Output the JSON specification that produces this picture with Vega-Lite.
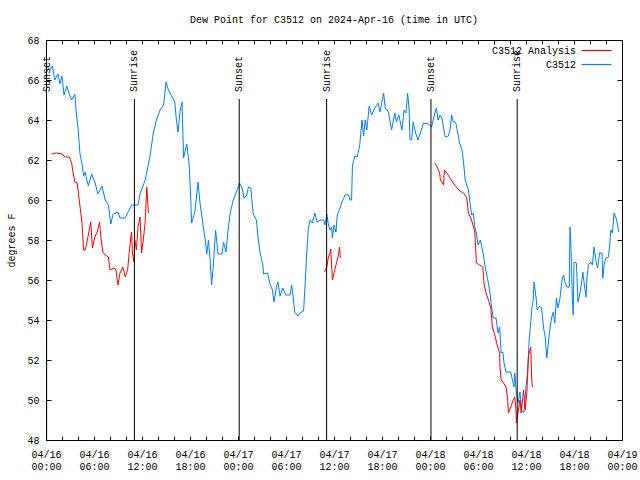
{
  "$schema": "https://vega.github.io/schema/vega-lite/v6.json",
  "width": 576,
  "height": 400,
  "autosize": "none",
  "padding": {"left": 46, "top": 40, "right": 18, "bottom": 40},
  "background": "white",
  "title": {"text": "Dew Point for C3512 on 2024-Apr-16 (time in UTC)", "font": "Liberation Mono", "fontSize": 10, "fontWeight": "normal", "color": "black", "anchor": "middle", "offset": 10},
  "config": {
    "view": {"stroke": "black", "strokeWidth": 1},
    "axis": {"labelFont": "Liberation Mono", "labelFontSize": 10, "labelColor": "black", "titleFont": "Liberation Mono", "titleFontSize": 10, "titleFontWeight": "normal", "titleColor": "black", "domainColor": "black", "tickColor": "black", "grid": false},
    "legend": {"orient": "none", "legendX": 544.5, "legendY": 4.5, "symbolType": "M-3,0H3", "symbolSize": 100, "symbolStrokeWidth": 1.2, "labelAlign": "right", "labelOffset": -26.5, "padding": 0, "rowPadding": 3, "labelFont": "Liberation Mono", "labelFontSize": 10, "labelColor": "black"}
  },
  "datasets": {
    "obs": [
      {"hour":0.1,"dewpoint":66.7,"series":"C3512","segment":"b"},{"hour":0.5,"dewpoint":66.5,"series":"C3512","segment":"b"},{"hour":0.8,"dewpoint":66.7,"series":"C3512","segment":"b"},{"hour":1.1,"dewpoint":66.0,"series":"C3512","segment":"b"},{"hour":1.5,"dewpoint":66.3,"series":"C3512","segment":"b"},{"hour":1.75,"dewpoint":65.8,"series":"C3512","segment":"b"},{"hour":2.0,"dewpoint":66.2,"series":"C3512","segment":"b"},{"hour":2.25,"dewpoint":65.25,"series":"C3512","segment":"b"},{"hour":2.6,"dewpoint":65.7,"series":"C3512","segment":"b"},{"hour":2.9,"dewpoint":65.3,"series":"C3512","segment":"b"},{"hour":3.2,"dewpoint":65.0,"series":"C3512","segment":"b"},{"hour":3.6,"dewpoint":65.3,"series":"C3512","segment":"b"},{"hour":3.8,"dewpoint":64.3,"series":"C3512","segment":"b"},{"hour":4.0,"dewpoint":63.6,"series":"C3512","segment":"b"},{"hour":4.25,"dewpoint":62.3,"series":"C3512","segment":"b"},{"hour":4.5,"dewpoint":61.8,"series":"C3512","segment":"b"},{"hour":4.7,"dewpoint":61.2,"series":"C3512","segment":"b"},{"hour":4.9,"dewpoint":61.4,"series":"C3512","segment":"b"},{"hour":5.1,"dewpoint":61.0,"series":"C3512","segment":"b"},{"hour":5.3,"dewpoint":60.7,"series":"C3512","segment":"b"},{"hour":5.7,"dewpoint":61.3,"series":"C3512","segment":"b"},{"hour":6.1,"dewpoint":60.9,"series":"C3512","segment":"b"},{"hour":6.5,"dewpoint":60.3,"series":"C3512","segment":"b"},{"hour":7.0,"dewpoint":60.7,"series":"C3512","segment":"b"},{"hour":7.4,"dewpoint":60.0,"series":"C3512","segment":"b"},{"hour":7.8,"dewpoint":59.75,"series":"C3512","segment":"b"},{"hour":8.1,"dewpoint":58.8,"series":"C3512","segment":"b"},{"hour":8.4,"dewpoint":59.3,"series":"C3512","segment":"b"},{"hour":9.0,"dewpoint":59.4,"series":"C3512","segment":"b"},{"hour":9.25,"dewpoint":59.1,"series":"C3512","segment":"b"},{"hour":9.9,"dewpoint":59.1,"series":"C3512","segment":"b"},{"hour":10.25,"dewpoint":59.4,"series":"C3512","segment":"b"},{"hour":10.7,"dewpoint":59.75,"series":"C3512","segment":"b"},{"hour":11.5,"dewpoint":59.75,"series":"C3512","segment":"b"},{"hour":11.75,"dewpoint":60.3,"series":"C3512","segment":"b"},{"hour":12.4,"dewpoint":61.0,"series":"C3512","segment":"b"},{"hour":13.0,"dewpoint":62.2,"series":"C3512","segment":"b"},{"hour":13.4,"dewpoint":63.3,"series":"C3512","segment":"b"},{"hour":13.8,"dewpoint":64.0,"series":"C3512","segment":"b"},{"hour":14.25,"dewpoint":64.5,"series":"C3512","segment":"b"},{"hour":14.7,"dewpoint":64.75,"series":"C3512","segment":"b"},{"hour":15.0,"dewpoint":65.9,"series":"C3512","segment":"b"},{"hour":15.3,"dewpoint":65.5,"series":"C3512","segment":"b"},{"hour":15.7,"dewpoint":65.2,"series":"C3512","segment":"b"},{"hour":16.1,"dewpoint":64.9,"series":"C3512","segment":"b"},{"hour":16.3,"dewpoint":64.0,"series":"C3512","segment":"b"},{"hour":16.5,"dewpoint":63.4,"series":"C3512","segment":"b"},{"hour":16.75,"dewpoint":64.4,"series":"C3512","segment":"b"},{"hour":17.0,"dewpoint":64.9,"series":"C3512","segment":"b"},{"hour":17.2,"dewpoint":62.1,"series":"C3512","segment":"b"},{"hour":17.6,"dewpoint":62.8,"series":"C3512","segment":"b"},{"hour":17.9,"dewpoint":61.75,"series":"C3512","segment":"b"},{"hour":18.1,"dewpoint":60.0,"series":"C3512","segment":"b"},{"hour":18.2,"dewpoint":58.85,"series":"C3512","segment":"b"},{"hour":18.6,"dewpoint":59.4,"series":"C3512","segment":"b"},{"hour":19.0,"dewpoint":60.9,"series":"C3512","segment":"b"},{"hour":19.25,"dewpoint":59.85,"series":"C3512","segment":"b"},{"hour":19.6,"dewpoint":58.85,"series":"C3512","segment":"b"},{"hour":19.9,"dewpoint":58.0,"series":"C3512","segment":"b"},{"hour":20.1,"dewpoint":57.3,"series":"C3512","segment":"b"},{"hour":20.3,"dewpoint":58.0,"series":"C3512","segment":"b"},{"hour":20.5,"dewpoint":57.1,"series":"C3512","segment":"b"},{"hour":20.7,"dewpoint":55.75,"series":"C3512","segment":"b"},{"hour":20.9,"dewpoint":56.65,"series":"C3512","segment":"b"},{"hour":21.2,"dewpoint":58.5,"series":"C3512","segment":"b"},{"hour":21.5,"dewpoint":57.3,"series":"C3512","segment":"b"},{"hour":22.0,"dewpoint":57.3,"series":"C3512","segment":"b"},{"hour":22.2,"dewpoint":57.9,"series":"C3512","segment":"b"},{"hour":22.5,"dewpoint":57.4,"series":"C3512","segment":"b"},{"hour":22.8,"dewpoint":58.65,"series":"C3512","segment":"b"},{"hour":23.0,"dewpoint":59.3,"series":"C3512","segment":"b"},{"hour":23.4,"dewpoint":60.0,"series":"C3512","segment":"b"},{"hour":23.8,"dewpoint":60.4,"series":"C3512","segment":"b"},{"hour":24.2,"dewpoint":60.85,"series":"C3512","segment":"b"},{"hour":24.5,"dewpoint":60.6,"series":"C3512","segment":"b"},{"hour":24.75,"dewpoint":60.1,"series":"C3512","segment":"b"},{"hour":25.1,"dewpoint":60.25,"series":"C3512","segment":"b"},{"hour":25.3,"dewpoint":60.65,"series":"C3512","segment":"b"},{"hour":25.6,"dewpoint":60.6,"series":"C3512","segment":"b"},{"hour":25.9,"dewpoint":59.3,"series":"C3512","segment":"b"},{"hour":26.3,"dewpoint":59.0,"series":"C3512","segment":"b"},{"hour":26.5,"dewpoint":58.15,"series":"C3512","segment":"b"},{"hour":26.75,"dewpoint":57.4,"series":"C3512","segment":"b"},{"hour":27.1,"dewpoint":56.75,"series":"C3512","segment":"b"},{"hour":27.2,"dewpoint":56.3,"series":"C3512","segment":"b"},{"hour":27.7,"dewpoint":56.35,"series":"C3512","segment":"b"},{"hour":28.0,"dewpoint":55.8,"series":"C3512","segment":"b"},{"hour":28.3,"dewpoint":55.5,"series":"C3512","segment":"b"},{"hour":28.5,"dewpoint":54.9,"series":"C3512","segment":"b"},{"hour":28.8,"dewpoint":55.65,"series":"C3512","segment":"b"},{"hour":29.0,"dewpoint":55.9,"series":"C3512","segment":"b"},{"hour":29.25,"dewpoint":55.2,"series":"C3512","segment":"b"},{"hour":29.6,"dewpoint":55.6,"series":"C3512","segment":"b"},{"hour":30.0,"dewpoint":55.25,"series":"C3512","segment":"b"},{"hour":30.5,"dewpoint":55.25,"series":"C3512","segment":"b"},{"hour":30.7,"dewpoint":55.75,"series":"C3512","segment":"b"},{"hour":30.9,"dewpoint":55.15,"series":"C3512","segment":"b"},{"hour":31.1,"dewpoint":54.35,"series":"C3512","segment":"b"},{"hour":31.5,"dewpoint":54.2,"series":"C3512","segment":"b"},{"hour":31.75,"dewpoint":54.35,"series":"C3512","segment":"b"},{"hour":32.2,"dewpoint":54.45,"series":"C3512","segment":"b"},{"hour":32.4,"dewpoint":55.85,"series":"C3512","segment":"b"},{"hour":32.6,"dewpoint":57.35,"series":"C3512","segment":"b"},{"hour":32.8,"dewpoint":58.6,"series":"C3512","segment":"b"},{"hour":33.0,"dewpoint":59.0,"series":"C3512","segment":"b"},{"hour":33.3,"dewpoint":58.85,"series":"C3512","segment":"b"},{"hour":33.6,"dewpoint":59.35,"series":"C3512","segment":"b"},{"hour":33.9,"dewpoint":58.9,"series":"C3512","segment":"b"},{"hour":34.25,"dewpoint":59.0,"series":"C3512","segment":"b"},{"hour":34.7,"dewpoint":59.0,"series":"C3512","segment":"b"},{"hour":34.9,"dewpoint":58.75,"series":"C3512","segment":"b"},{"hour":35.1,"dewpoint":59.3,"series":"C3512","segment":"b"},{"hour":35.3,"dewpoint":58.8,"series":"C3512","segment":"b"},{"hour":35.5,"dewpoint":58.5,"series":"C3512","segment":"b"},{"hour":35.7,"dewpoint":58.65,"series":"C3512","segment":"b"},{"hour":35.8,"dewpoint":58.1,"series":"C3512","segment":"b"},{"hour":36.0,"dewpoint":58.75,"series":"C3512","segment":"b"},{"hour":36.25,"dewpoint":58.4,"series":"C3512","segment":"b"},{"hour":36.4,"dewpoint":59.25,"series":"C3512","segment":"b"},{"hour":36.75,"dewpoint":59.6,"series":"C3512","segment":"b"},{"hour":37.0,"dewpoint":59.9,"series":"C3512","segment":"b"},{"hour":37.4,"dewpoint":60.25,"series":"C3512","segment":"b"},{"hour":37.8,"dewpoint":60.25,"series":"C3512","segment":"b"},{"hour":38.0,"dewpoint":60.0,"series":"C3512","segment":"b"},{"hour":38.2,"dewpoint":60.0,"series":"C3512","segment":"b"},{"hour":38.3,"dewpoint":61.7,"series":"C3512","segment":"b"},{"hour":38.6,"dewpoint":62.2,"series":"C3512","segment":"b"},{"hour":38.9,"dewpoint":62.15,"series":"C3512","segment":"b"},{"hour":39.2,"dewpoint":62.7,"series":"C3512","segment":"b"},{"hour":39.5,"dewpoint":64.0,"series":"C3512","segment":"b"},{"hour":39.7,"dewpoint":63.2,"series":"C3512","segment":"b"},{"hour":39.9,"dewpoint":64.0,"series":"C3512","segment":"b"},{"hour":40.1,"dewpoint":63.5,"series":"C3512","segment":"b"},{"hour":40.4,"dewpoint":64.7,"series":"C3512","segment":"b"},{"hour":40.7,"dewpoint":64.25,"series":"C3512","segment":"b"},{"hour":41.1,"dewpoint":64.6,"series":"C3512","segment":"b"},{"hour":41.5,"dewpoint":64.85,"series":"C3512","segment":"b"},{"hour":41.75,"dewpoint":64.4,"series":"C3512","segment":"b"},{"hour":42.2,"dewpoint":65.35,"series":"C3512","segment":"b"},{"hour":42.4,"dewpoint":64.6,"series":"C3512","segment":"b"},{"hour":42.8,"dewpoint":64.4,"series":"C3512","segment":"b"},{"hour":43.2,"dewpoint":63.5,"series":"C3512","segment":"b"},{"hour":43.6,"dewpoint":64.35,"series":"C3512","segment":"b"},{"hour":43.8,"dewpoint":63.9,"series":"C3512","segment":"b"},{"hour":44.1,"dewpoint":64.25,"series":"C3512","segment":"b"},{"hour":44.5,"dewpoint":63.5,"series":"C3512","segment":"b"},{"hour":44.75,"dewpoint":64.5,"series":"C3512","segment":"b"},{"hour":45.0,"dewpoint":64.35,"series":"C3512","segment":"b"},{"hour":45.2,"dewpoint":65.35,"series":"C3512","segment":"b"},{"hour":45.4,"dewpoint":64.5,"series":"C3512","segment":"b"},{"hour":45.5,"dewpoint":63.0,"series":"C3512","segment":"b"},{"hour":45.7,"dewpoint":63.0,"series":"C3512","segment":"b"},{"hour":45.9,"dewpoint":63.9,"series":"C3512","segment":"b"},{"hour":46.2,"dewpoint":63.35,"series":"C3512","segment":"b"},{"hour":46.5,"dewpoint":63.0,"series":"C3512","segment":"b"},{"hour":46.75,"dewpoint":63.3,"series":"C3512","segment":"b"},{"hour":47.2,"dewpoint":63.85,"series":"C3512","segment":"b"},{"hour":47.8,"dewpoint":63.8,"series":"C3512","segment":"b"},{"hour":48.2,"dewpoint":63.65,"series":"C3512","segment":"b"},{"hour":48.6,"dewpoint":64.35,"series":"C3512","segment":"b"},{"hour":48.8,"dewpoint":64.6,"series":"C3512","segment":"b"},{"hour":49.0,"dewpoint":64.0,"series":"C3512","segment":"b"},{"hour":49.25,"dewpoint":64.25,"series":"C3512","segment":"b"},{"hour":49.5,"dewpoint":64.1,"series":"C3512","segment":"b"},{"hour":49.7,"dewpoint":63.6,"series":"C3512","segment":"b"},{"hour":49.9,"dewpoint":63.15,"series":"C3512","segment":"b"},{"hour":50.3,"dewpoint":63.2,"series":"C3512","segment":"b"},{"hour":50.5,"dewpoint":63.5,"series":"C3512","segment":"b"},{"hour":50.7,"dewpoint":64.25,"series":"C3512","segment":"b"},{"hour":50.9,"dewpoint":63.9,"series":"C3512","segment":"b"},{"hour":51.2,"dewpoint":63.9,"series":"C3512","segment":"b"},{"hour":51.4,"dewpoint":63.5,"series":"C3512","segment":"b"},{"hour":51.7,"dewpoint":62.85,"series":"C3512","segment":"b"},{"hour":52.0,"dewpoint":62.5,"series":"C3512","segment":"b"},{"hour":52.2,"dewpoint":61.85,"series":"C3512","segment":"b"},{"hour":52.4,"dewpoint":61.0,"series":"C3512","segment":"b"},{"hour":52.6,"dewpoint":60.75,"series":"C3512","segment":"b"},{"hour":52.8,"dewpoint":60.5,"series":"C3512","segment":"b"},{"hour":53.0,"dewpoint":59.85,"series":"C3512","segment":"b"},{"hour":53.2,"dewpoint":59.25,"series":"C3512","segment":"b"},{"hour":53.4,"dewpoint":59.35,"series":"C3512","segment":"b"},{"hour":53.6,"dewpoint":58.65,"series":"C3512","segment":"b"},{"hour":53.8,"dewpoint":58.35,"series":"C3512","segment":"b"},{"hour":54.0,"dewpoint":57.75,"series":"C3512","segment":"b"},{"hour":54.3,"dewpoint":58.0,"series":"C3512","segment":"b"},{"hour":54.7,"dewpoint":57.2,"series":"C3512","segment":"b"},{"hour":54.9,"dewpoint":56.65,"series":"C3512","segment":"b"},{"hour":55.1,"dewpoint":56.25,"series":"C3512","segment":"b"},{"hour":55.3,"dewpoint":55.85,"series":"C3512","segment":"b"},{"hour":55.5,"dewpoint":55.35,"series":"C3512","segment":"b"},{"hour":55.7,"dewpoint":54.65,"series":"C3512","segment":"b"},{"hour":55.9,"dewpoint":54.1,"series":"C3512","segment":"b"},{"hour":56.25,"dewpoint":54.1,"series":"C3512","segment":"b"},{"hour":56.5,"dewpoint":53.35,"series":"C3512","segment":"b"},{"hour":56.7,"dewpoint":53.65,"series":"C3512","segment":"b"},{"hour":56.9,"dewpoint":52.35,"series":"C3512","segment":"b"},{"hour":57.1,"dewpoint":52.4,"series":"C3512","segment":"b"},{"hour":57.25,"dewpoint":51.85,"series":"C3512","segment":"b"},{"hour":57.5,"dewpoint":51.4,"series":"C3512","segment":"b"},{"hour":58.1,"dewpoint":51.4,"series":"C3512","segment":"b"},{"hour":58.3,"dewpoint":51.0,"series":"C3512","segment":"b"},{"hour":58.5,"dewpoint":50.65,"series":"C3512","segment":"b"},{"hour":58.6,"dewpoint":51.35,"series":"C3512","segment":"b"},{"hour":58.8,"dewpoint":50.35,"series":"C3512","segment":"b"},{"hour":59.0,"dewpoint":49.85,"series":"C3512","segment":"b"},{"hour":59.25,"dewpoint":50.4,"series":"C3512","segment":"b"},{"hour":59.5,"dewpoint":49.4,"series":"C3512","segment":"b"},{"hour":59.75,"dewpoint":49.4,"series":"C3512","segment":"b"},{"hour":60.0,"dewpoint":50.65,"series":"C3512","segment":"b"},{"hour":60.2,"dewpoint":51.4,"series":"C3512","segment":"b"},{"hour":60.4,"dewpoint":53.0,"series":"C3512","segment":"b"},{"hour":60.6,"dewpoint":53.9,"series":"C3512","segment":"b"},{"hour":60.75,"dewpoint":54.65,"series":"C3512","segment":"b"},{"hour":60.9,"dewpoint":55.0,"series":"C3512","segment":"b"},{"hour":61.0,"dewpoint":55.9,"series":"C3512","segment":"b"},{"hour":61.25,"dewpoint":55.15,"series":"C3512","segment":"b"},{"hour":61.4,"dewpoint":54.5,"series":"C3512","segment":"b"},{"hour":61.7,"dewpoint":54.7,"series":"C3512","segment":"b"},{"hour":61.95,"dewpoint":54.6,"series":"C3512","segment":"b"},{"hour":62.2,"dewpoint":53.6,"series":"C3512","segment":"b"},{"hour":62.4,"dewpoint":53.15,"series":"C3512","segment":"b"},{"hour":62.5,"dewpoint":52.6,"series":"C3512","segment":"b"},{"hour":62.6,"dewpoint":52.1,"series":"C3512","segment":"b"},{"hour":62.8,"dewpoint":52.85,"series":"C3512","segment":"b"},{"hour":63.0,"dewpoint":53.6,"series":"C3512","segment":"b"},{"hour":63.2,"dewpoint":54.1,"series":"C3512","segment":"b"},{"hour":63.4,"dewpoint":54.4,"series":"C3512","segment":"b"},{"hour":63.6,"dewpoint":53.85,"series":"C3512","segment":"b"},{"hour":63.8,"dewpoint":55.1,"series":"C3512","segment":"b"},{"hour":64.0,"dewpoint":54.6,"series":"C3512","segment":"b"},{"hour":64.25,"dewpoint":55.1,"series":"C3512","segment":"b"},{"hour":64.5,"dewpoint":56.0,"series":"C3512","segment":"b"},{"hour":64.7,"dewpoint":56.25,"series":"C3512","segment":"b"},{"hour":64.9,"dewpoint":55.85,"series":"C3512","segment":"b"},{"hour":65.1,"dewpoint":55.65,"series":"C3512","segment":"b"},{"hour":65.4,"dewpoint":55.65,"series":"C3512","segment":"b"},{"hour":65.5,"dewpoint":58.65,"series":"C3512","segment":"b"},{"hour":65.6,"dewpoint":57.9,"series":"C3512","segment":"b"},{"hour":65.8,"dewpoint":55.0,"series":"C3512","segment":"b"},{"hour":65.9,"dewpoint":54.25,"series":"C3512","segment":"b"},{"hour":66.0,"dewpoint":56.9,"series":"C3512","segment":"b"},{"hour":66.3,"dewpoint":56.85,"series":"C3512","segment":"b"},{"hour":66.5,"dewpoint":54.9,"series":"C3512","segment":"b"},{"hour":66.75,"dewpoint":55.35,"series":"C3512","segment":"b"},{"hour":66.95,"dewpoint":55.85,"series":"C3512","segment":"b"},{"hour":67.1,"dewpoint":56.4,"series":"C3512","segment":"b"},{"hour":67.3,"dewpoint":55.75,"series":"C3512","segment":"b"},{"hour":67.5,"dewpoint":55.15,"series":"C3512","segment":"b"},{"hour":67.6,"dewpoint":56.0,"series":"C3512","segment":"b"},{"hour":67.8,"dewpoint":56.75,"series":"C3512","segment":"b"},{"hour":68.1,"dewpoint":56.9,"series":"C3512","segment":"b"},{"hour":68.3,"dewpoint":56.75,"series":"C3512","segment":"b"},{"hour":68.5,"dewpoint":57.65,"series":"C3512","segment":"b"},{"hour":68.75,"dewpoint":56.95,"series":"C3512","segment":"b"},{"hour":68.95,"dewpoint":56.6,"series":"C3512","segment":"b"},{"hour":69.2,"dewpoint":57.35,"series":"C3512","segment":"b"},{"hour":69.5,"dewpoint":57.35,"series":"C3512","segment":"b"},{"hour":69.6,"dewpoint":56.1,"series":"C3512","segment":"b"},{"hour":69.8,"dewpoint":56.85,"series":"C3512","segment":"b"},{"hour":70.0,"dewpoint":57.1,"series":"C3512","segment":"b"},{"hour":70.3,"dewpoint":57.15,"series":"C3512","segment":"b"},{"hour":70.5,"dewpoint":57.9,"series":"C3512","segment":"b"},{"hour":70.6,"dewpoint":58.5,"series":"C3512","segment":"b"},{"hour":70.8,"dewpoint":58.35,"series":"C3512","segment":"b"},{"hour":71.0,"dewpoint":59.35,"series":"C3512","segment":"b"},{"hour":71.25,"dewpoint":59.1,"series":"C3512","segment":"b"},{"hour":71.4,"dewpoint":58.85,"series":"C3512","segment":"b"},{"hour":71.6,"dewpoint":58.4,"series":"C3512","segment":"b"},
      {"hour":0.7,"dewpoint":62.3,"series":"C3512 Analysis","segment":"r1"},{"hour":1.3,"dewpoint":62.35,"series":"C3512 Analysis","segment":"r1"},{"hour":2.0,"dewpoint":62.3,"series":"C3512 Analysis","segment":"r1"},{"hour":2.4,"dewpoint":62.15,"series":"C3512 Analysis","segment":"r1"},{"hour":2.9,"dewpoint":62.15,"series":"C3512 Analysis","segment":"r1"},{"hour":3.2,"dewpoint":61.85,"series":"C3512 Analysis","segment":"r1"},{"hour":3.4,"dewpoint":61.35,"series":"C3512 Analysis","segment":"r1"},{"hour":3.6,"dewpoint":60.9,"series":"C3512 Analysis","segment":"r1"},{"hour":3.9,"dewpoint":60.85,"series":"C3512 Analysis","segment":"r1"},{"hour":4.2,"dewpoint":59.85,"series":"C3512 Analysis","segment":"r1"},{"hour":4.5,"dewpoint":58.85,"series":"C3512 Analysis","segment":"r1"},{"hour":4.7,"dewpoint":57.5,"series":"C3512 Analysis","segment":"r1"},{"hour":4.9,"dewpoint":57.5,"series":"C3512 Analysis","segment":"r1"},{"hour":5.1,"dewpoint":57.85,"series":"C3512 Analysis","segment":"r1"},{"hour":5.4,"dewpoint":58.5,"series":"C3512 Analysis","segment":"r1"},{"hour":5.6,"dewpoint":58.9,"series":"C3512 Analysis","segment":"r1"},{"hour":5.8,"dewpoint":57.6,"series":"C3512 Analysis","segment":"r1"},{"hour":6.1,"dewpoint":58.15,"series":"C3512 Analysis","segment":"r1"},{"hour":6.4,"dewpoint":58.4,"series":"C3512 Analysis","segment":"r1"},{"hour":6.7,"dewpoint":58.9,"series":"C3512 Analysis","segment":"r1"},{"hour":6.9,"dewpoint":58.0,"series":"C3512 Analysis","segment":"r1"},{"hour":7.1,"dewpoint":57.4,"series":"C3512 Analysis","segment":"r1"},{"hour":7.4,"dewpoint":57.25,"series":"C3512 Analysis","segment":"r1"},{"hour":7.8,"dewpoint":57.15,"series":"C3512 Analysis","segment":"r1"},{"hour":8.0,"dewpoint":56.5,"series":"C3512 Analysis","segment":"r1"},{"hour":8.5,"dewpoint":56.6,"series":"C3512 Analysis","segment":"r1"},{"hour":8.75,"dewpoint":56.5,"series":"C3512 Analysis","segment":"r1"},{"hour":8.9,"dewpoint":56.0,"series":"C3512 Analysis","segment":"r1"},{"hour":9.0,"dewpoint":55.75,"series":"C3512 Analysis","segment":"r1"},{"hour":9.25,"dewpoint":56.35,"series":"C3512 Analysis","segment":"r1"},{"hour":9.6,"dewpoint":56.65,"series":"C3512 Analysis","segment":"r1"},{"hour":9.9,"dewpoint":56.15,"series":"C3512 Analysis","segment":"r1"},{"hour":10.2,"dewpoint":56.5,"series":"C3512 Analysis","segment":"r1"},{"hour":10.4,"dewpoint":57.35,"series":"C3512 Analysis","segment":"r1"},{"hour":10.6,"dewpoint":58.15,"series":"C3512 Analysis","segment":"r1"},{"hour":10.7,"dewpoint":58.4,"series":"C3512 Analysis","segment":"r1"},{"hour":10.8,"dewpoint":57.35,"series":"C3512 Analysis","segment":"r1"},{"hour":11.0,"dewpoint":56.9,"series":"C3512 Analysis","segment":"r1"},{"hour":11.1,"dewpoint":58.0,"series":"C3512 Analysis","segment":"r1"},{"hour":11.3,"dewpoint":57.5,"series":"C3512 Analysis","segment":"r1"},{"hour":11.5,"dewpoint":58.65,"series":"C3512 Analysis","segment":"r1"},{"hour":11.75,"dewpoint":59.15,"series":"C3512 Analysis","segment":"r1"},{"hour":11.95,"dewpoint":57.35,"series":"C3512 Analysis","segment":"r1"},{"hour":12.2,"dewpoint":58.15,"series":"C3512 Analysis","segment":"r1"},{"hour":12.4,"dewpoint":58.9,"series":"C3512 Analysis","segment":"r1"},{"hour":12.6,"dewpoint":60.65,"series":"C3512 Analysis","segment":"r1"},{"hour":12.8,"dewpoint":59.35,"series":"C3512 Analysis","segment":"r1"},
      {"hour":34.8,"dewpoint":56.4,"series":"C3512 Analysis","segment":"r2"},{"hour":35.1,"dewpoint":56.65,"series":"C3512 Analysis","segment":"r2"},{"hour":35.3,"dewpoint":57.15,"series":"C3512 Analysis","segment":"r2"},{"hour":35.5,"dewpoint":57.35,"series":"C3512 Analysis","segment":"r2"},{"hour":35.6,"dewpoint":57.55,"series":"C3512 Analysis","segment":"r2"},{"hour":35.8,"dewpoint":56.0,"series":"C3512 Analysis","segment":"r2"},{"hour":36.0,"dewpoint":56.35,"series":"C3512 Analysis","segment":"r2"},{"hour":36.25,"dewpoint":56.75,"series":"C3512 Analysis","segment":"r2"},{"hour":36.5,"dewpoint":57.15,"series":"C3512 Analysis","segment":"r2"},{"hour":36.7,"dewpoint":57.65,"series":"C3512 Analysis","segment":"r2"},{"hour":36.8,"dewpoint":57.1,"series":"C3512 Analysis","segment":"r2"},
      {"hour":48.6,"dewpoint":61.85,"series":"C3512 Analysis","segment":"r3"},{"hour":48.9,"dewpoint":61.65,"series":"C3512 Analysis","segment":"r3"},{"hour":49.2,"dewpoint":61.35,"series":"C3512 Analysis","segment":"r3"},{"hour":49.3,"dewpoint":61.0,"series":"C3512 Analysis","segment":"r3"},{"hour":49.7,"dewpoint":60.75,"series":"C3512 Analysis","segment":"r3"},{"hour":49.8,"dewpoint":61.5,"series":"C3512 Analysis","segment":"r3"},{"hour":50.1,"dewpoint":61.35,"series":"C3512 Analysis","segment":"r3"},{"hour":50.5,"dewpoint":61.1,"series":"C3512 Analysis","segment":"r3"},{"hour":50.9,"dewpoint":60.85,"series":"C3512 Analysis","segment":"r3"},{"hour":51.3,"dewpoint":60.65,"series":"C3512 Analysis","segment":"r3"},{"hour":51.75,"dewpoint":60.45,"series":"C3512 Analysis","segment":"r3"},{"hour":52.2,"dewpoint":60.35,"series":"C3512 Analysis","segment":"r3"},{"hour":52.6,"dewpoint":60.1,"series":"C3512 Analysis","segment":"r3"},{"hour":52.8,"dewpoint":59.35,"series":"C3512 Analysis","segment":"r3"},{"hour":53.1,"dewpoint":59.1,"series":"C3512 Analysis","segment":"r3"},{"hour":53.3,"dewpoint":58.85,"series":"C3512 Analysis","segment":"r3"},{"hour":53.6,"dewpoint":58.4,"series":"C3512 Analysis","segment":"r3"},{"hour":53.8,"dewpoint":56.85,"series":"C3512 Analysis","segment":"r3"},{"hour":54.2,"dewpoint":56.75,"series":"C3512 Analysis","segment":"r3"},{"hour":54.6,"dewpoint":56.65,"series":"C3512 Analysis","segment":"r3"},{"hour":54.75,"dewpoint":55.85,"series":"C3512 Analysis","segment":"r3"},{"hour":55.0,"dewpoint":55.35,"series":"C3512 Analysis","segment":"r3"},{"hour":55.3,"dewpoint":55.0,"series":"C3512 Analysis","segment":"r3"},{"hour":55.6,"dewpoint":54.6,"series":"C3512 Analysis","segment":"r3"},{"hour":55.8,"dewpoint":53.65,"series":"C3512 Analysis","segment":"r3"},{"hour":56.1,"dewpoint":53.25,"series":"C3512 Analysis","segment":"r3"},{"hour":56.4,"dewpoint":52.75,"series":"C3512 Analysis","segment":"r3"},{"hour":56.7,"dewpoint":52.35,"series":"C3512 Analysis","segment":"r3"},{"hour":56.75,"dewpoint":51.65,"series":"C3512 Analysis","segment":"r3"},{"hour":56.9,"dewpoint":51.0,"series":"C3512 Analysis","segment":"r3"},{"hour":57.2,"dewpoint":50.85,"series":"C3512 Analysis","segment":"r3"},{"hour":57.5,"dewpoint":50.65,"series":"C3512 Analysis","segment":"r3"},{"hour":57.7,"dewpoint":50.1,"series":"C3512 Analysis","segment":"r3"},{"hour":57.8,"dewpoint":49.35,"series":"C3512 Analysis","segment":"r3"},{"hour":58.1,"dewpoint":49.65,"series":"C3512 Analysis","segment":"r3"},{"hour":58.4,"dewpoint":50.0,"series":"C3512 Analysis","segment":"r3"},{"hour":58.6,"dewpoint":50.15,"series":"C3512 Analysis","segment":"r3"},{"hour":58.75,"dewpoint":49.5,"series":"C3512 Analysis","segment":"r3"},{"hour":58.8,"dewpoint":48.85,"series":"C3512 Analysis","segment":"r3"},{"hour":59.0,"dewpoint":49.35,"series":"C3512 Analysis","segment":"r3"},{"hour":59.25,"dewpoint":50.0,"series":"C3512 Analysis","segment":"r3"},{"hour":59.4,"dewpoint":49.35,"series":"C3512 Analysis","segment":"r3"},{"hour":59.7,"dewpoint":50.5,"series":"C3512 Analysis","segment":"r3"},{"hour":59.9,"dewpoint":49.5,"series":"C3512 Analysis","segment":"r3"},{"hour":60.1,"dewpoint":50.35,"series":"C3512 Analysis","segment":"r3"},{"hour":60.3,"dewpoint":52.15,"series":"C3512 Analysis","segment":"r3"},{"hour":60.4,"dewpoint":52.35,"series":"C3512 Analysis","segment":"r3"},{"hour":60.6,"dewpoint":52.65,"series":"C3512 Analysis","segment":"r3"},{"hour":60.7,"dewpoint":51.15,"series":"C3512 Analysis","segment":"r3"},{"hour":60.8,"dewpoint":50.65,"series":"C3512 Analysis","segment":"r3"}
    ],
    "sun": [
      {"hour": 0.08, "event": "Sunset"},
      {"hour": 11.05, "event": "Sunrise"},
      {"hour": 24.15, "event": "Sunset"},
      {"hour": 35.08, "event": "Sunrise"},
      {"hour": 48.12, "event": "Sunset"},
      {"hour": 58.9, "event": "Sunrise"}
    ]
  },
  "layer": [
    {
      "data": {"name": "obs"},
      "mark": {"type": "line", "strokeWidth": 1, "clip": true},
      "encoding": {
        "x": {"field": "hour", "type": "quantitative", "scale": {"domain": [0, 72], "nice": false, "zero": false},
          "axis": {"orient": "bottom", "title": null, "values": [0,2,4,6,8,10,12,14,16,18,20,22,24,26,28,30,32,34,36,38,40,42,44,46,48,50,52,54,56,58,60,62,64,66,68,70,72],
            "labelExpr": "datum.value % 6 == 0 ? ['04/' + (16 + floor(datum.value / 24)), (datum.value % 24 < 10 ? '0' : '') + (datum.value % 24) + ':00'] : ''",
            "tickSize": -4, "labelPadding": 13, "labelBaseline": "top", "labelLineHeight": 12, "labelFlush": false, "labelOverlap": false}},
        "y": {"field": "dewpoint", "type": "quantitative", "scale": {"domain": [48, 68], "nice": false, "zero": false},
          "axis": {"orient": "left", "title": "degrees F", "values": [48,50,52,54,56,58,60,62,64,66,68], "tickSize": -5, "labelPadding": 12, "titlePadding": 10, "labelFlush": false}},
        "color": {"field": "series", "type": "nominal", "scale": {"domain": ["C3512 Analysis", "C3512"], "range": ["#ff0000", "#0080ff"]},
          "legend": {"title": null, "encode": {"symbols": {"update": {"stroke": {"signal": "datum.value === 'C3512' ? '#0080ff' : '#ff0000'"}, "strokeOpacity": {"value": 1}, "opacity": {"value": 1}, "fill": {"value": "transparent"}}}}}},
        "detail": {"field": "segment"},
        "order": {"field": "hour", "type": "quantitative"}
      }
    },
    {
      "data": {"name": "sun"},
      "mark": {"type": "rule", "color": "black", "strokeWidth": 1},
      "encoding": {
        "x": {"field": "hour", "type": "quantitative",
          "axis": {"orient": "top", "title": null, "labels": false, "values": [0,2,4,6,8,10,12,14,16,18,20,22,24,26,28,30,32,34,36,38,40,42,44,46,48,50,52,54,56,58,60,62,64,66,68,70,72], "tickSize": -4}},
        "y": {"datum": 65.05, "type": "quantitative", "axis": {"orient": "right", "title": null, "labels": false, "values": [48,50,52,54,56,58,60,62,64,66,68], "tickSize": -5}},
        "y2": {"datum": 48}
      }
    },
    {
      "data": {"name": "sun"},
      "mark": {"type": "text", "angle": 270, "align": "left", "baseline": "middle", "font": "Liberation Mono", "fontSize": 10, "color": "black"},
      "encoding": {
        "x": {"field": "hour", "type": "quantitative", "axis": null},
        "y": {"datum": 65.4, "type": "quantitative", "axis": null},
        "text": {"field": "event"}
      }
    }
  ],
  "resolve": {"axis": {"x": "independent", "y": "independent"}}
}
